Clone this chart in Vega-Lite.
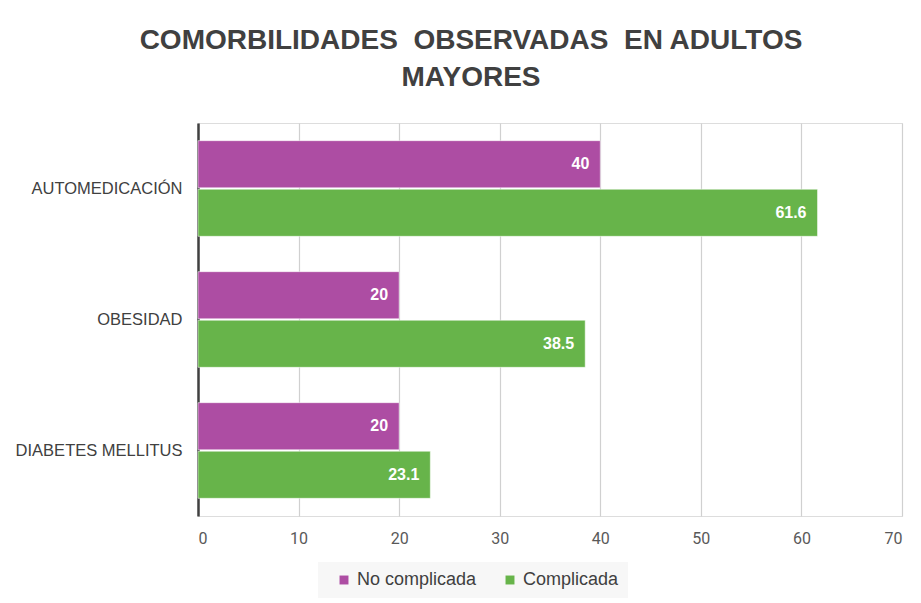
{
  "$schema": "https://vega.github.io/schema/vega-lite/v6.json",
  "autosize": "none",
  "width": 704,
  "height": 393,
  "padding": {"left": 198, "top": 123, "right": 19, "bottom": 87},
  "background": "white",
  "title": {
    "text": ["COMORBILIDADES\u00a0\u00a0OBSERVADAS\u00a0\u00a0EN ADULTOS", "MAYORES"],
    "anchor": "middle",
    "dx": -79,
    "offset": 31,
    "font": "Liberation Sans",
    "fontWeight": "bold",
    "fontSize": 28,
    "lineHeight": 37,
    "color": "#404040"
  },
  "data": {
    "values": [
      {"cat": "AUTOMEDICACIÓN", "serie": "No complicada", "valor": 40},
      {"cat": "AUTOMEDICACIÓN", "serie": "Complicada", "valor": 61.6},
      {"cat": "OBESIDAD", "serie": "No complicada", "valor": 20},
      {"cat": "OBESIDAD", "serie": "Complicada", "valor": 38.5},
      {"cat": "DIABETES MELLITUS", "serie": "No complicada", "valor": 20},
      {"cat": "DIABETES MELLITUS", "serie": "Complicada", "valor": 23.1}
    ]
  },
  "encoding": {
    "y": {
      "field": "cat",
      "type": "nominal",
      "sort": ["AUTOMEDICACIÓN", "OBESIDAD", "DIABETES MELLITUS"],
      "title": null,
      "scale": {"paddingInner": 0.27, "paddingOuter": 0.135},
      "axis": {
        "domainColor": "#404040",
        "domainWidth": 2.5,
        "ticks": false,
        "labelFont": "Liberation Sans",
        "labelFontSize": 16.5,
        "labelColor": "#404040",
        "labelPadding": 16
      }
    },
    "yOffset": {"field": "serie", "type": "nominal", "sort": ["No complicada", "Complicada"], "scale": {"paddingInner": 0.03}},
    "x": {
      "field": "valor",
      "type": "quantitative",
      "scale": {"domain": [0, 70]},
      "title": null,
      "axis": {
        "values": [0, 10, 20, 30, 40, 50, 60, 70],
        "domain": false,
        "ticks": false,
        "gridColor": "#d0d0d0",
        "gridWidth": 1.2,
        "labelFont": "Roboto",
        "labelFontSize": 16,
        "labelColor": "#595959",
        "labelPadding": 14
      }
    }
  },
  "layer": [
    {
      "mark": {"type": "bar", "stroke": "#ffffff", "strokeOpacity": 0.5, "strokeWidth": 1},
      "encoding": {
        "color": {
          "field": "serie",
          "type": "nominal",
          "sort": ["No complicada", "Complicada"],
          "scale": {"domain": ["No complicada", "Complicada"], "range": ["#AD4DA3", "#67B44A"]},
          "legend": {
            "title": null,
            "orient": "none",
            "legendX": 120,
            "legendY": 439,
            "direction": "horizontal",
            "fillColor": "#f7f7f7",
            "padding": 9,
            "symbolOffset": 8,
            "symbolType": "square",
            "symbolSize": 80,
            "symbolStrokeWidth": 0,
            "labelFont": "Liberation Sans",
            "labelFontSize": 18,
            "labelColor": "#404040",
            "columnPadding": 16,
            "labelOffset": 4
          }
        }
      }
    },
    {
      "mark": {"type": "text", "align": "right", "dx": -11, "color": "white", "fontWeight": "bold", "fontSize": 16, "font": "Liberation Sans"},
      "encoding": {"text": {"field": "valor", "type": "quantitative"}}
    }
  ]
}
